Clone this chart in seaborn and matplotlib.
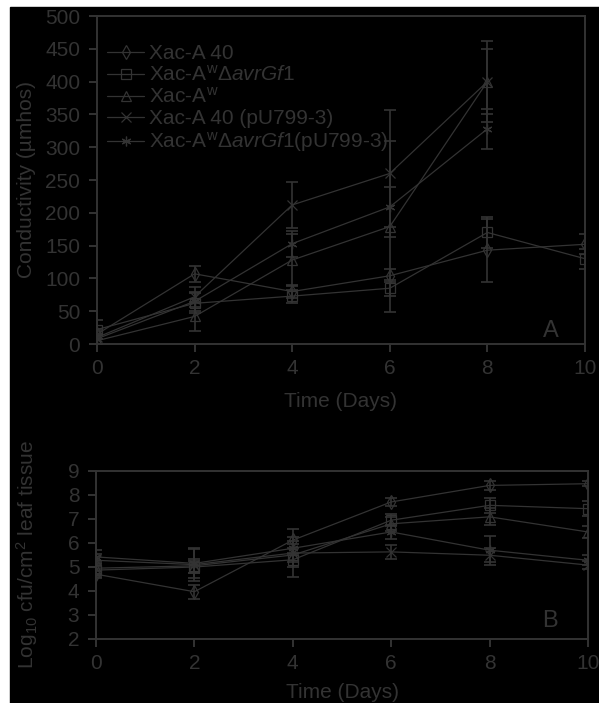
import matplotlib
matplotlib.use("Agg")
import matplotlib.pyplot as plt
from matplotlib.lines import Line2D
from matplotlib.patches import Rectangle
import pandas as pd
import seaborn as sns

# ---- data ----
strains = ["Xac-A 40", "Xac-AwΔavrGf1", "Xac-Aw", "Xac-A 40 (pU799-3)", "Xac-AwΔavrGf1(pU799-3)"]
labels = [
    "Xac-A 40",
    r"Xac-A$^{\mathrm{w}}$Δ$\mathit{avrGf1}$",
    r"Xac-A$^{\mathrm{w}}$",
    "Xac-A 40 (pU799-3)",
    r"Xac-A$^{\mathrm{w}}$Δ$\mathit{avrGf1}$(pU799-3)",
]
markers = ["d", "s", "^", "x", (6, 2, 0)]

days_long = [0, 2, 4, 6, 8, 10]
days_short = [0, 2, 4, 6, 8]

# panel A: conductivity (umhos)
cond_a40 = [15, 107, 80, 104, 143, 152]
cond_dAvr = [22, 62, 73, 85, 170, 130]
cond_Aw = [5, 42, 128, 179, 400]
cond_a40p = [10, 72, 212, 260, 400]
cond_dAvrp = [8, 65, 153, 209, 328]
cond_err_a40 = [8, 12, 10, 10, 48, 15]
cond_err_dAvr = [15, 15, 10, 12, 24, 15]
cond_err_Aw = [10, 22, 40, 130, 50]
cond_err_a40p = [10, 15, 35, 97, 62]
cond_err_dAvrp = [8, 15, 20, 30, 30]

# panel B: log10 cfu/cm2
pop_a40 = [4.70, 3.97, 6.12, 7.71, 8.40, 8.47]
pop_dAvr = [4.87, 5.00, 5.30, 6.95, 7.57, 7.43]
pop_Aw = [4.95, 5.05, 5.50, 6.80, 7.09, 6.46]
pop_a40p = [5.28, 5.10, 5.58, 5.63, 5.49, 5.08]
pop_dAvrp = [5.42, 5.15, 5.78, 6.46, 5.70, 5.28]
pop_err_a40 = [0.15, 0.30, 0.15, 0.15, 0.20, 0.10]
pop_err_dAvr = [0.30, 0.25, 0.30, 0.25, 0.30, 0.30]
pop_err_Aw = [0.30, 0.30, 0.30, 0.30, 0.35, 0.25]
pop_err_a40p = [0.25, 0.70, 1.00, 0.30, 0.30, 0.15]
pop_err_dAvrp = [0.30, 0.60, 0.30, 0.30, 0.60, 0.20]

cond_vals = [cond_a40, cond_dAvr, cond_Aw, cond_a40p, cond_dAvrp]
cond_errs = [cond_err_a40, cond_err_dAvr, cond_err_Aw, cond_err_a40p, cond_err_dAvrp]
cond_days = [days_long, days_long, days_short, days_short, days_short]
pop_vals = [pop_a40, pop_dAvr, pop_Aw, pop_a40p, pop_dAvrp]
pop_errs = [pop_err_a40, pop_err_dAvr, pop_err_Aw, pop_err_a40p, pop_err_dAvrp]


def long_table(vals, errs, days):
    rows = []
    for s, v, e, d in zip(strains, vals, errs, days):
        for di, vi, ei in zip(d, v, e):
            rows.append(dict(strain=s, day=di, value=vi, err=ei))
    return pd.DataFrame(rows)


cond_df = long_table(cond_vals, cond_errs, cond_days)
pop_df = long_table(pop_vals, pop_errs, [days_long] * 5)

sns.set_style("ticks")
FG = "#333333"
FS = 15
plt.rcParams["font.family"] = ["Liberation Sans", "DejaVu Sans"]
plt.rcParams["mathtext.fontset"] = "custom"
plt.rcParams["mathtext.rm"] = "Liberation Sans"
plt.rcParams["mathtext.it"] = "Liberation Sans:italic"
plt.rcParams["mathtext.bf"] = "Liberation Sans:bold"

fig = plt.figure(figsize=(5.99, 7.03), dpi=100, facecolor="white")
fig.patches.append(Rectangle((10 / 599, 0), 589 / 599, 696 / 703,
                             transform=fig.transFigure, color="black", zorder=-10))

ax_a = fig.add_axes([97 / 599, 1 - 344 / 703, 488 / 599, 328 / 703])
ax_b = fig.add_axes([96 / 599, 1 - 639 / 703, 492 / 599, 168 / 703])


def draw(ax, df):
    ax.set_facecolor("black")
    for s, m in zip(strains, markers):
        sub = df[df.strain == s]
        sns.lineplot(data=sub, x="day", y="value", marker=m, color=FG,
                     linewidth=0.9, markersize=7, markeredgecolor=FG,
                     markerfacecolor="none", markeredgewidth=0.9,
                     legend=False, ax=ax, errorbar=None)
        ax.errorbar(sub.day, sub.value, yerr=sub.err, fmt="none", ecolor=FG,
                    elinewidth=1.2, capsize=4, capthick=1.2)
    for sp in ax.spines.values():
        sp.set_color(FG)
        sp.set_linewidth(1.4)
    ax.tick_params(colors=FG, labelcolor=FG, labelsize=FS, length=6, width=1.4,
                   direction="out", top=False, right=False)
    ax.tick_params(axis="y", pad=6)
    ax.tick_params(axis="x", pad=5)
    ax.set_xlim(0, 10)
    ax.set_xticks([0, 2, 4, 6, 8, 10])
    ax.set_xlabel("Time (Days)", color=FG, fontsize=FS)


draw(ax_a, cond_df)
ax_a.set_ylim(0, 500)
ax_a.set_yticks(range(0, 501, 50))
ax_a.set_ylabel("Conductivity (µmhos)", color=FG, fontsize=FS, labelpad=6.5)
ax_a.xaxis.labelpad = 10
ax_a.text(0.913, 0.021, "A", transform=ax_a.transAxes, color=FG, fontsize=17)

draw(ax_b, pop_df)
ax_b.set_ylim(2, 9)
ax_b.set_yticks(range(2, 10))
ax_b.set_ylabel(r"Log$_{10}$ cfu/cm$^{2}$ leaf tissue", color=FG, fontsize=FS, labelpad=20)
ax_b.xaxis.labelpad = 7
ax_b.text(0.906, 0.071, "B", transform=ax_b.transAxes, color=FG, fontsize=17)

handles = [Line2D([], [], color=FG, lw=0.9, marker=m, markersize=7, mfc="none",
                  mec=FG, mew=0.9) for m in markers]
leg = ax_a.legend(handles, labels, loc="upper left", bbox_to_anchor=(0.004, 0.94),
                  frameon=False, fontsize=FS, handlelength=1.75, handletextpad=0.25,
                  labelspacing=0.1, borderaxespad=0.0)
for t in leg.get_texts():
    t.set_color(FG)

fig.savefig("out.png", dpi=100, facecolor=fig.get_facecolor())
